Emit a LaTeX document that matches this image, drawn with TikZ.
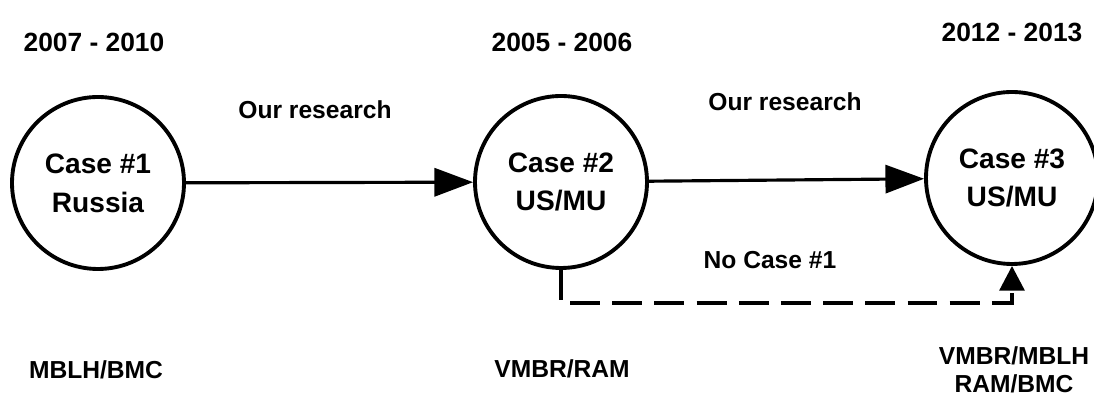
\documentclass[tikz,border=0pt]{standalone}
\usepackage{fontspec}
\setmainfont{Liberation Sans}
\usetikzlibrary{arrows.meta}
\tikzset{
  casenode/.style={circle, draw, line width=2.2pt, minimum size=3.44cm, inner sep=0pt, align=center, font=\fontsize{16}{22}\selectfont\bfseries},
  lbl/.style={inner sep=0pt, align=center, font=\fontsize{14}{16}\selectfont\bfseries},
  datelbl/.style={lbl, font=\fontsize{15}{16}\selectfont\bfseries},
  flow/.style={line width=1.8pt, -{Triangle[length=22pt, width=16pt]}},
  back/.style={line width=2.2pt, dash pattern=on 17pt off 7pt, -{Triangle[length=14pt, width=14pt]}}
}
\begin{document}
\begin{tikzpicture}
      \useasboundingbox (0,0) rectangle (21.88,8.06);
      % Nodes
      \node[casenode] at (1.96, 4.40) (c1) {Case \#1\\Russia};
      \node[casenode] at (11.22, 4.42) (c2) {Case \#2\\US/MU};
      \node[casenode] at (20.24, 4.50) (c3) {Case \#3\\US/MU};

      \node[datelbl] at (1.88, 7.22) (y1) {2007 - 2010};
      \node[datelbl] at (11.24, 7.22) (y2) {2005 - 2006};
      \node[datelbl] at (20.24, 7.42) (y3) {2012 - 2013};

      \node[lbl] at (6.30, 5.86) (r1) {Our research};
      \node[lbl] at (15.70, 6.02) (r2) {Our research};
      \node[lbl] at (15.40, 2.86) (nc) {No Case \#1};

      \node[lbl] at (1.92, 0.66) (t1) {MBLH/BMC};
      \node[lbl] at (11.24, 0.68) (t2) {VMBR/RAM};
      \node[lbl] at (20.28, 0.66) (t3) {VMBR/MBLH\\RAM/BMC};

      \coordinate (bend) at (15.00, 2.00);

      \draw[flow] (c1) -- (c2);
      \draw[flow] (c2) -- (c3);
      \draw[back] (c2.south) |- (bend) -| (c3.south);
    \end{tikzpicture}
\end{document}
